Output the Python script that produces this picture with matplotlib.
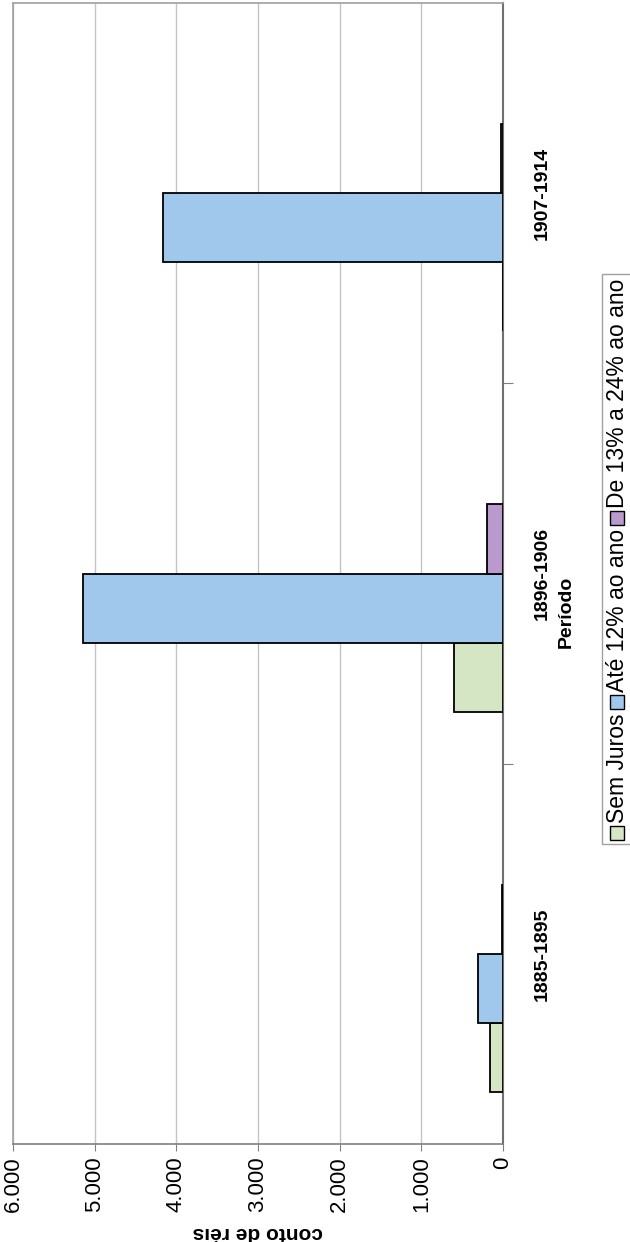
import numpy as np
import matplotlib
matplotlib.use("Agg")
import matplotlib.pyplot as plt
from matplotlib.patches import Rectangle

plt.rcParams['font.family'] = ['Liberation Sans', 'DejaVu Sans']

periodos = ['1885-1895', '1896-1906', '1907-1914']
sem_juros = [160, 600, 5]
ate_12 = [305, 5140, 4160]
de_13_24 = [10, 195, 20]
serie_nomes = ['Sem Juros', 'Até 12% ao ano', 'De 13% a 24% ao ano']
cores = ['#d4e6c4', '#a0c8ec', '#ba99cc']
xticks = [0, 1000, 2000, 3000, 4000, 5000, 6000]
xticklabels = ['0', '1.000', '2.000', '3.000', '4.000', '5.000', '6.000']

W, H = 630, 1242
fig = plt.figure(figsize=(W / 100, H / 100), dpi=100)
ax = fig.add_axes([13 / W, (H - 1144) / H, (503 - 13) / W, (1144 - 3) / H])

# excel style: 4 slots per group (last one empty), gap 150%
h = 1 / 5.5
Y = np.arange(len(periodos))
series = [sem_juros, ate_12, de_13_24]
for i, vals in enumerate(series):
    ax.barh(Y + (i - 1.5) * h, vals, height=h, color=cores[i],
            edgecolor='black', linewidth=1.3, zorder=3)

ax.set_xlim(6000, 0)
ax.set_ylim(-0.5, 2.5)

ax.set_xticks(xticks)
ax.set_xticklabels(xticklabels, rotation=90, fontsize=16)
ax.xaxis.grid(True, color='#c4c4c4', linewidth=1.0, zorder=0)
ax.tick_params(axis='x', direction='out', length=5, color='#808080', pad=4)

ax.yaxis.tick_right()
ax.set_yticks([0.5, 1.5])
ax.set_yticklabels([])
ax.set_yticks(Y, minor=True)
ax.set_yticklabels(periodos, minor=True, rotation=90, fontsize=14,
                   fontweight='bold', va='center')
ax.tick_params(axis='y', which='major', direction='out', length=7,
               color='#808080')
ax.tick_params(axis='y', which='minor', length=0, pad=22)

for s in ['left', 'bottom', 'top']:
    ax.spines[s].set_color('#a0a0a0')
    ax.spines[s].set_linewidth(1.2)
ax.spines['right'].set_color('#707070')
ax.spines['right'].set_linewidth(1.5)
ax.spines['bottom'].set_color('#808080')

ax.set_xlabel('conto de réis', rotation=180, fontsize=15, fontweight='bold',
              labelpad=8)
fig.text(566 / W, 1 - 612 / H, 'Período', rotation=90, fontsize=14,
         fontweight='bold', ha='center', va='center')

# legend drawn by hand, rotated like the rest of the chart
fig.canvas.draw()
r = fig.canvas.get_renderer()
xc = 617
top = H - 274
y = top - 5  # display coords from bottom
sq = 14
itens = list(zip(serie_nomes, cores))[::-1]
for nome, cor in itens:
    t = fig.text(xc / W, y / H, nome, rotation=90, fontsize=16.5,
                 ha='center', va='top')
    bb = t.get_window_extent(r)
    y = bb.y0 - 3
    fig.patches.append(Rectangle(((xc - sq / 2) / W, (y - sq) / H), sq / W, sq / H,
                                 transform=fig.transFigure, facecolor=cor,
                                 edgecolor='black', linewidth=1.0))
    y = y - sq - 4
bottom = y
fig.patches.append(Rectangle((602 / W, bottom / H), 40 / W, (top - bottom) / H,
                             transform=fig.transFigure, facecolor='none',
                             edgecolor='#a0a0a0', linewidth=1.0))

fig.savefig('out.png', dpi=100)
